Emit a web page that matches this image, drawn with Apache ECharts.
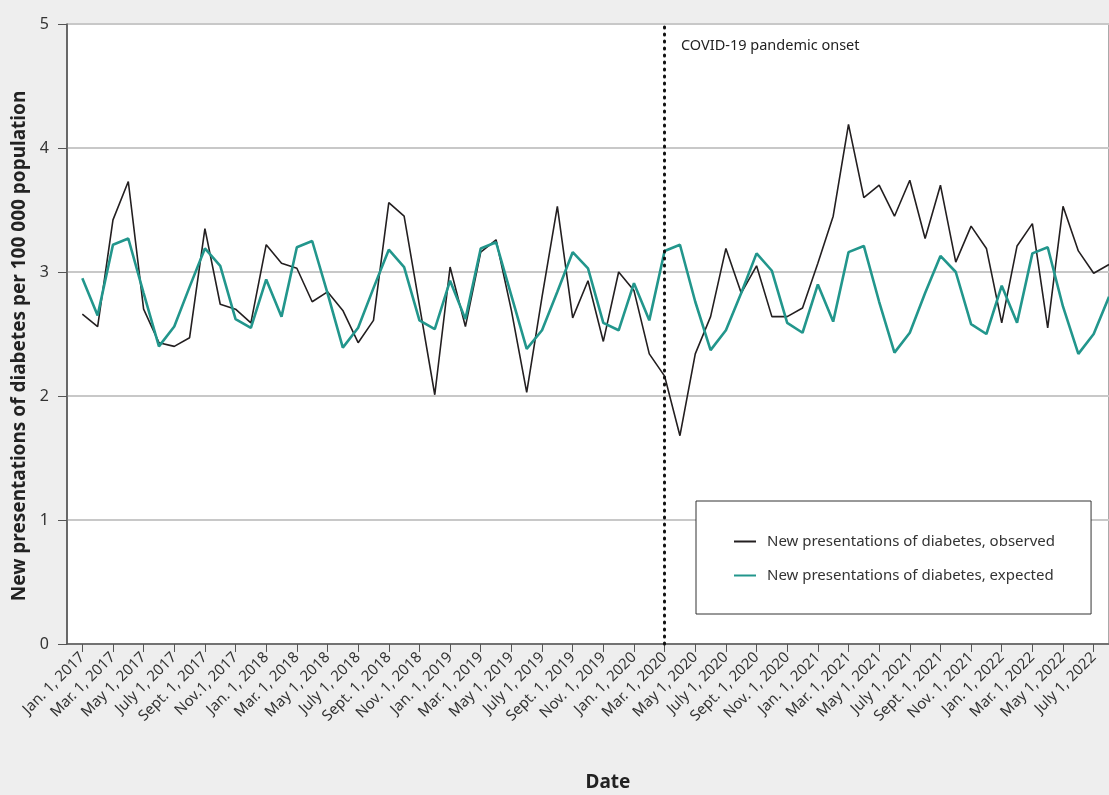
<!DOCTYPE html>
<html>
<head>
<meta charset="utf-8">
<script src="https://cdn.jsdelivr.net/npm/echarts@6/dist/echarts.min.js"></script>
<style>
  html, body { margin: 0; padding: 0; background: #eeeeee; }
  #chart { width: 1109px; height: 795px; }
</style>
</head>
<body>
<div id="chart"></div>
<script>
// monthly values, Jan 2017 .. Aug 2022
const observed = [
  2.66, 2.56, 3.42, 3.73, 2.70, 2.43, 2.40, 2.47, 3.35, 2.74, 2.70, 2.59,
  3.22, 3.07, 3.03, 2.76, 2.84, 2.69, 2.43, 2.61, 3.56, 3.45, 2.73, 2.01,
  3.04, 2.56, 3.16, 3.26, 2.69, 2.03, 2.80, 3.53, 2.63, 2.93, 2.44, 3.00,
  2.85, 2.34, 2.16, 1.68, 2.34, 2.64, 3.19, 2.83, 3.05, 2.64, 2.64, 2.71,
  3.07, 3.45, 4.19, 3.60, 3.70, 3.45, 3.74, 3.27, 3.70, 3.08, 3.37, 3.19,
  2.59, 3.21, 3.39, 2.55, 3.53, 3.17, 2.99, 3.06
]
const expected = [
  2.95, 2.65, 3.22, 3.27, 2.83, 2.40, 2.56, 2.88, 3.19, 3.05, 2.62, 2.55,
  2.94, 2.64, 3.20, 3.25, 2.83, 2.39, 2.55, 2.87, 3.18, 3.04, 2.61, 2.54,
  2.93, 2.62, 3.19, 3.24, 2.81, 2.38, 2.53, 2.84, 3.16, 3.03, 2.59, 2.53,
  2.91, 2.61, 3.17, 3.22, 2.76, 2.37, 2.53, 2.83, 3.15, 3.01, 2.59, 2.51,
  2.90, 2.60, 3.16, 3.21, 2.76, 2.35, 2.51, 2.83, 3.13, 3.00, 2.58, 2.50,
  2.89, 2.59, 3.15, 3.20, 2.72, 2.34, 2.50, 2.80
]
// one label every two months, starting Jan 2017
const tickLabels = [
  'Jan. 1, 2017', 'Mar. 1, 2017', 'May 1, 2017', 'July 1, 2017', 'Sept. 1, 2017', 'Nov.1, 2017',
  'Jan. 1, 2018', 'Mar. 1, 2018', 'May 1, 2018', 'July 1, 2018', 'Sept. 1, 2018', 'Nov. 1, 2018',
  'Jan. 1, 2019', 'Mar. 1, 2019', 'May 1, 2019', 'July 1, 2019', 'Sept. 1, 2019', 'Nov. 1, 2019',
  'Jan. 1, 2020', 'Mar. 1, 2020', 'May 1, 2020', 'July 1, 2020', 'Sept. 1, 2020', 'Nov. 1, 2020',
  'Jan. 1, 2021', 'Mar. 1, 2021', 'May 1, 2021', 'July 1, 2021', 'Sept. 1, 2021', 'Nov. 1, 2021',
  'Jan. 1, 2022', 'Mar. 1, 2022', 'May 1, 2022', 'July 1, 2022'
]
const onsetIndex = 38 // Mar 2020

const tickValues = tickLabels.map((_, i) => i * 2)
const font = 'Noto Sans'

const chart = echarts.init(document.getElementById('chart'))

const option = {
  backgroundColor: '#eeeeee',
  animation: false,
  textStyle: { fontFamily: font },
  grid: {
    left: 67, right: 0, top: 24, bottom: 151,
    outerBoundsMode: 'none',
    show: true, backgroundColor: '#ffffff',
    borderColor: '#555555', borderWidth: 1
  },
  legend: {
    left: 696, top: 501,
    orient: 'vertical',
    backgroundColor: '#ffffff',
    borderColor: '#333333', borderWidth: 1,
    padding: [33, 36, 31, 38],
    itemGap: 19,
    icon: 'rect',
    itemWidth: 22, itemHeight: 2,
    textStyle: { fontFamily: font, fontSize: 15, color: '#333333', padding: [0, 0, 0, 6] }
  },
  xAxis: {
    type: 'value',
    min: -1, max: 67,
    name: 'Date',
    nameLocation: 'middle',
    nameGap: 129,
    nameTextStyle: { fontFamily: font, fontSize: 19, fontWeight: 'bold', color: '#222222', padding: [0, 0, 0, 40] },
    splitLine: { show: false },
    axisLine: { lineStyle: { color: '#555555', width: 1.5 } },
    axisTick: { customValues: tickValues, length: 8, lineStyle: { color: '#555555' } },
    axisLabel: {
      customValues: tickValues,
      rotate: 45, margin: 11,
      fontSize: 15, color: '#333333',
      formatter: v => tickLabels[v / 2]
    }
  },
  yAxis: {
    type: 'value',
    min: 0, max: 5, interval: 1,
    name: 'New presentations of diabetes per 100 000 population',
    nameLocation: 'middle',
    nameGap: 37,
    nameTextStyle: { fontFamily: font, fontSize: 19, fontWeight: 'bold', color: '#222222', padding: [0, 24, 0, 0] },
    axisLine: { show: true, onZero: false, lineStyle: { color: '#555555', width: 1.5 } },
    axisTick: { show: true, length: 9, lineStyle: { color: '#555555' } },
    axisLabel: { fontSize: 16, color: '#333333', margin: 18 },
    splitLine: { lineStyle: { color: '#c8c8c8', width: 2 } }
  },
  graphic: [{
    type: 'text', left: 681, top: 38,
    style: { text: 'COVID-19 pandemic onset', fontFamily: font, fontSize: 14.5, fill: '#222222' }
  }],
  series: [
    {
      name: 'New presentations of diabetes, observed',
      type: 'line',
      data: observed.map((v, i) => [i, v]),
      symbol: 'none',
      lineStyle: { color: '#231f20', width: 1.6 },
      itemStyle: { color: '#231f20' },
      markLine: {
        silent: true,
        symbol: 'none',
        label: { show: false },
        lineStyle: { color: '#111111', type: [1, 6], width: 3, cap: 'round' },
        data: [{ xAxis: onsetIndex }]
      }
    },
    {
      name: 'New presentations of diabetes, expected',
      type: 'line',
      data: expected.map((v, i) => [i, v]),
      symbol: 'none',
      lineStyle: { color: '#22968c', width: 2.6 },
      itemStyle: { color: '#22968c' }
    }
  ]
}

chart.setOption(option)
</script>
</body>
</html>
